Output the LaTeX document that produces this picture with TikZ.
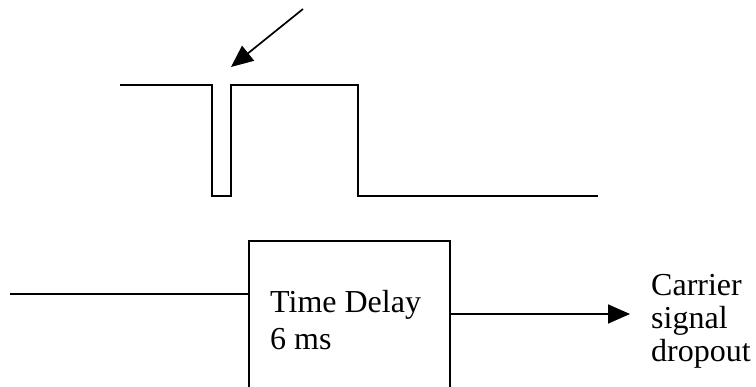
\documentclass[tikz,border=0pt]{standalone}
\usepackage{fontspec}
\setmainfont{Liberation Serif}
\usetikzlibrary{arrows.meta}
\begin{document}
\begin{tikzpicture}[x=1pt,y=-1pt,
  wire/.style={line width=1.7pt},
  arr/.style={line width=1.7pt,-{Triangle[length=22pt,width=19pt]}},
  lbl/.style={inner sep=0pt,anchor=base west,font=\fontsize{32}{38}\selectfont},
  boxst/.style={draw,line width=1.7pt,inner sep=0pt,anchor=north west}]
\useasboundingbox (0,0) rectangle (756,387);
% pulse waveform
\coordinate (p0) at (120,85);
\coordinate (p1) at (212,85);
\coordinate (p2) at (212,196);
\coordinate (p3) at (231,196);
\coordinate (p4) at (231,85);
\coordinate (p5) at (358,85);
\coordinate (p6) at (358,196);
\coordinate (p7) at (598,196);
\draw[wire] (p0) -- (p1) -- (p2) -- (p3) -- (p4) -- (p5) -- (p6) -- (p7);
% pointer arrow
\coordinate (a0) at (303,9);
\coordinate (a1) at (231,67);
\draw[arr] (a0) -- (a1);
% delay box (cut off at the bottom)
\node[boxst,minimum width=201pt,minimum height=180pt] (delay) at (248,240) {};
\coordinate (in) at (10,294);
\draw[wire] (in) -- (in -| delay.west);
\node[lbl] (t1) at (270,313) {Time Delay};
\node[lbl] (t2) at (270,350) {6 ms};
% output
\coordinate (out) at (630,314);
\draw[arr] (out -| delay.east) -- (out);
\node[lbl] (c1) at (651,296) {Carrier};
\node[lbl] (c2) at (651,329) {signal};
\node[lbl] (c3) at (651,362) {dropout};
\end{tikzpicture}
\end{document}
